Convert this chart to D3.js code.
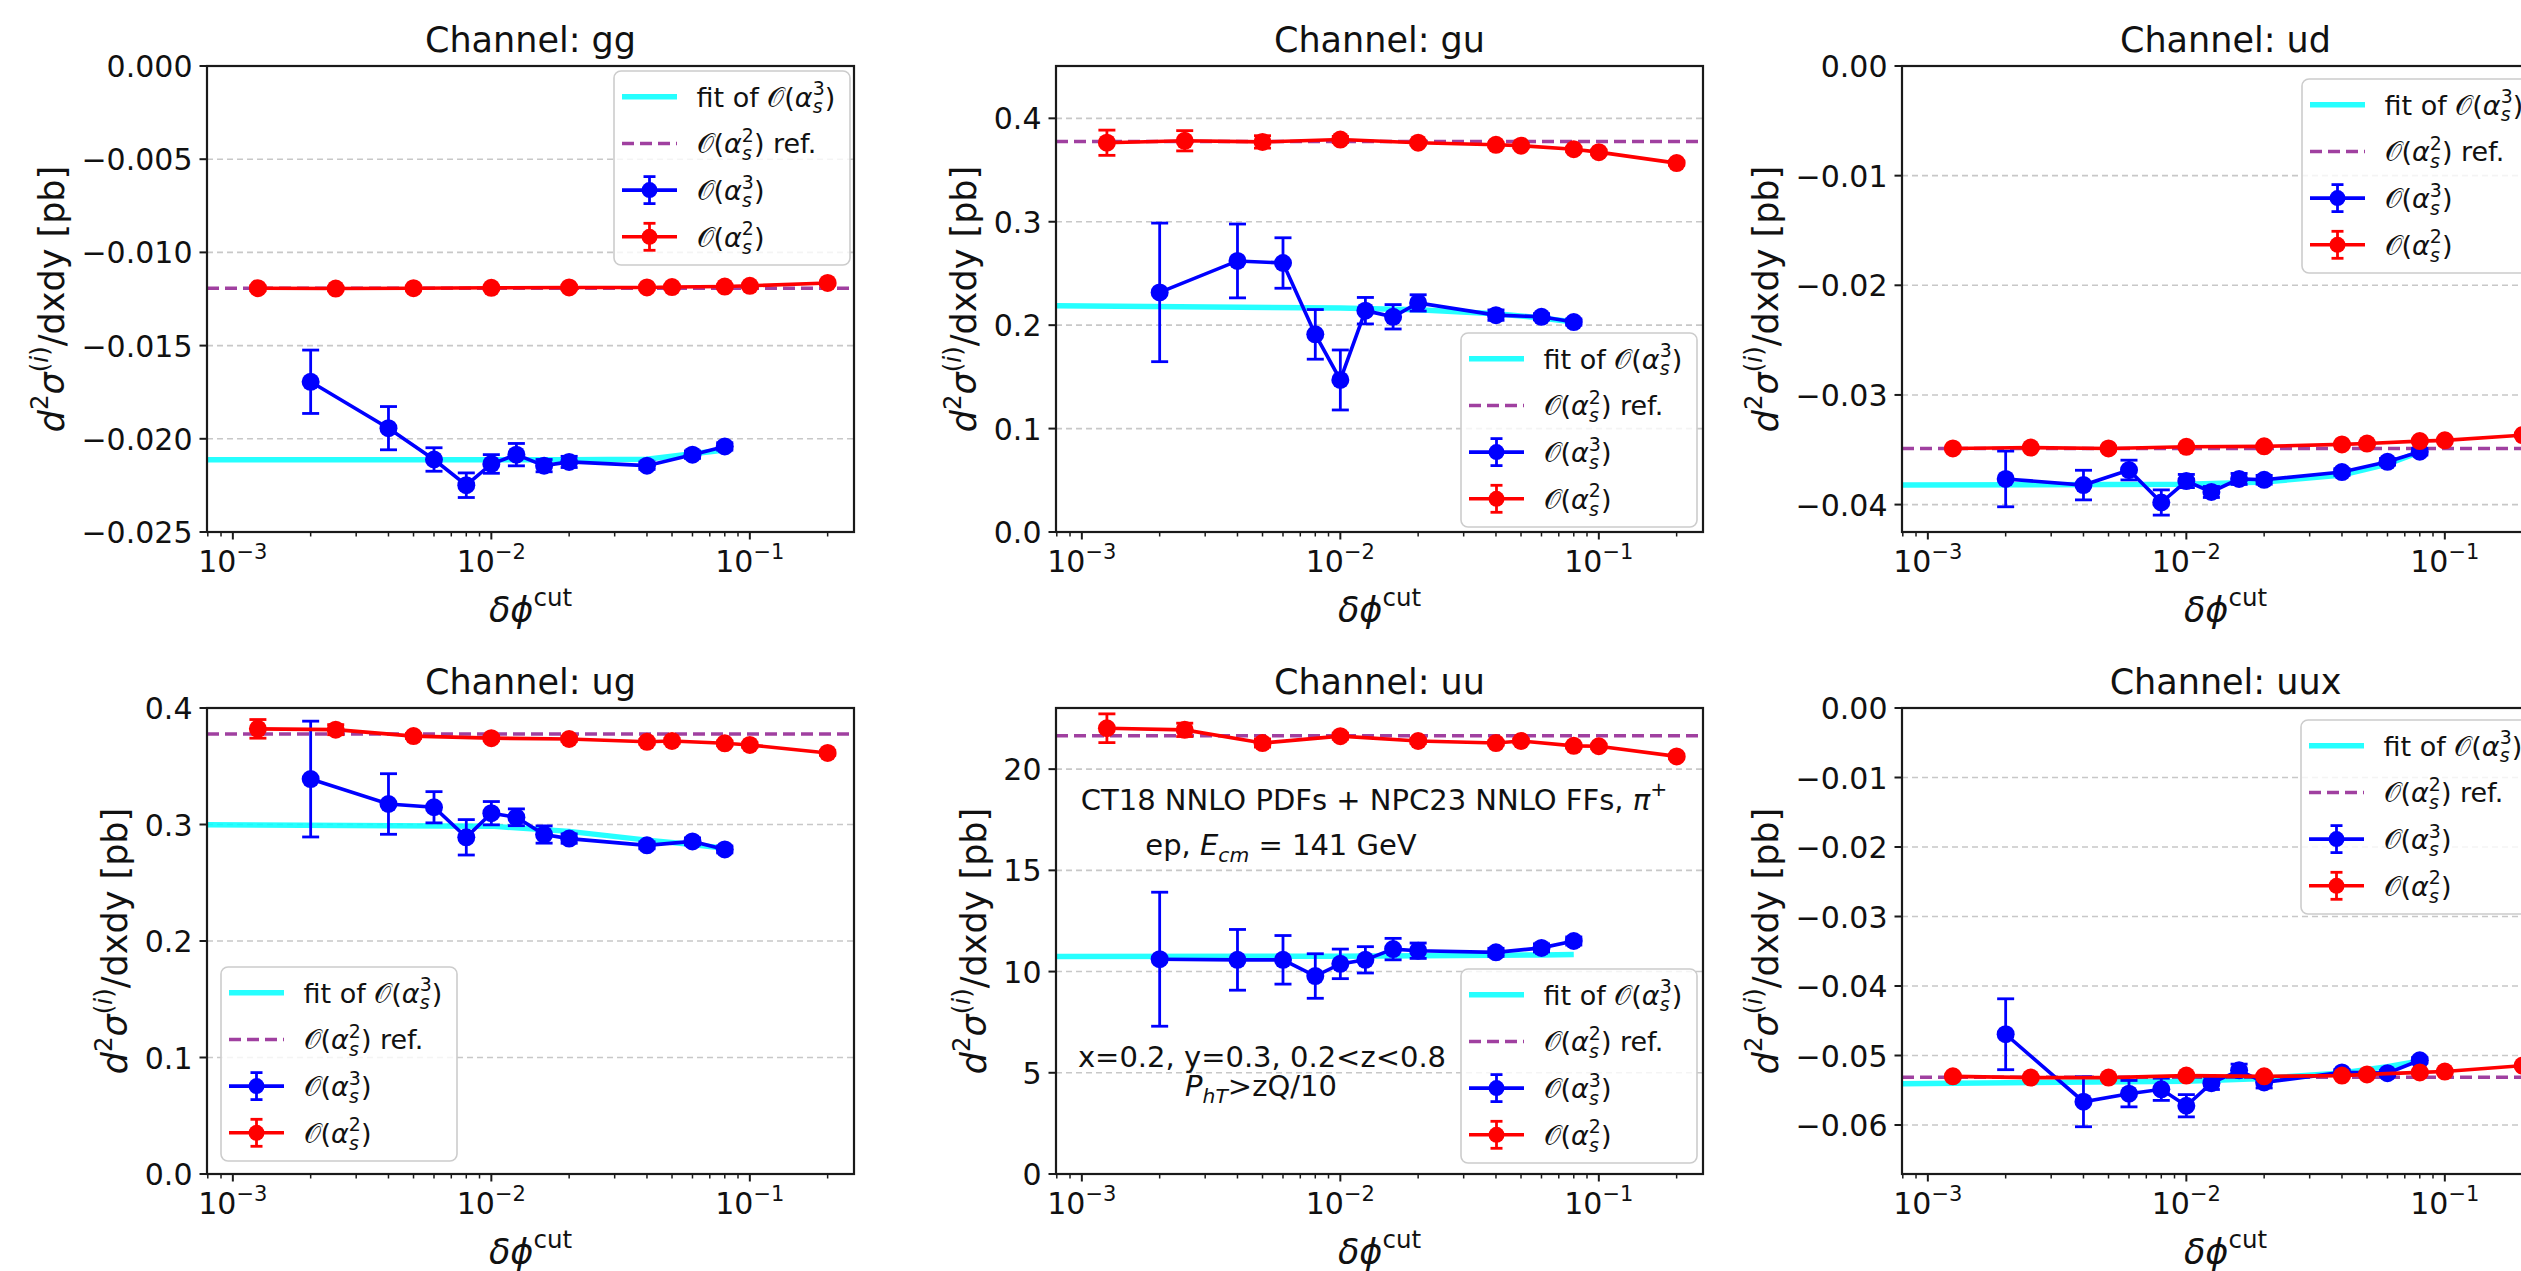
<!DOCTYPE html>
<html><head><meta charset="utf-8">
<script src="https://cdnjs.cloudflare.com/ajax/libs/d3/7.8.5/d3.min.js"></script>
<style>
html,body{margin:0;padding:0;background:#fff;overflow:hidden}
svg{display:block;font-family:"DejaVu Sans",sans-serif}
</style></head><body>
<svg id="chart" width="2521" height="1271"></svg>
<script>
// ---------------- DATA ----------------
const channels = ["gg","gu","ud","ug","uu","uux"];
const xRed  = [0.00125,0.0025,0.005,0.01,0.02,0.04,0.05,0.08,0.1,0.2];
const xBlue = [0.002,0.004,0.006,0.008,0.01,0.0125,0.016,0.02,0.04,0.06,0.08];
const xFit  = [0.000794,0.01,0.02,0.04,0.06,0.08];
const xTicks = [0.001,0.01,0.1];
const xTickExp = ["−3","−2","−1"];

const ggTicks = [0,-0.005,-0.01,-0.015,-0.02,-0.025];
const ggRed = [-0.01192,-0.01194,-0.01192,-0.0119,-0.01188,-0.01188,-0.01186,-0.01183,-0.01179,-0.01164];
const ggRedErr = [0.00012,0.0001,0.0001,0.0001,0.0001,0.0001,0.0001,0.0001,0.0001,0.0001];
const ggBlue = [-0.01694,-0.01943,-0.02111,-0.02249,-0.02135,-0.02085,-0.02144,-0.02124,-0.02144,-0.02085,-0.02041];
const ggBlueErr = [0.0017,0.00116,0.00063,0.00066,0.0005,0.0006,0.00033,0.0003,0.0002,0.0002,0.0002];
const ggFit = [-0.02113,-0.02113,-0.02112,-0.0211,-0.0208,-0.0206];
const ggRef = -0.01192;

const guTicks = [0,0.1,0.2,0.3,0.4];
const guRed = [0.3764,0.3783,0.3772,0.3795,0.3764,0.3744,0.3736,0.3701,0.3673,0.3567];
const guRedErr = [0.0122,0.0098,0.006,0.003,0.002,0.002,0.002,0.002,0.002,0.002];
const guBlue = [0.2317,0.2621,0.2601,0.1911,0.147,0.214,0.2081,0.2215,0.2097,0.2081,0.203];
const guBlueErr = [0.067,0.0357,0.0244,0.024,0.029,0.0128,0.0118,0.0079,0.005,0.003,0.003];
const guFit = [0.2187,0.2167,0.2148,0.211,0.207,0.203];
const guRef = 0.3776;

const udTicks = [0,-0.01,-0.02,-0.03,-0.04];
const udRed = [-0.03488,-0.0348,-0.03488,-0.03473,-0.03469,-0.03451,-0.03443,-0.03421,-0.03414,-0.03366];
const udRedErr = [0.0001,0.0001,0.0001,0.0001,0.0001,0.0001,0.0001,0.0001,0.0001,0.0001];
const udBlue = [-0.03766,-0.03822,-0.03685,-0.03981,-0.03785,-0.03885,-0.03766,-0.03774,-0.03703,-0.0361,-0.03518];
const udBlueErr = [0.00254,0.00135,0.0009,0.00115,0.0006,0.0005,0.0005,0.0004,0.0003,0.0003,0.0003];
const udFit = [-0.03822,-0.03815,-0.03795,-0.0373,-0.0363,-0.0352];
const udRef = -0.03488;

const ugTicks = [0,0.1,0.2,0.3,0.4];
const ugRed = [0.3821,0.3814,0.3759,0.3741,0.3734,0.371,0.3717,0.3697,0.3683,0.3614];
const ugRedErr = [0.008,0.0043,0.002,0.002,0.002,0.002,0.002,0.002,0.002,0.002];
const ugBlue = [0.339,0.3176,0.3148,0.289,0.3097,0.3062,0.2914,0.2879,0.2821,0.2855,0.2786];
const ugBlueErr = [0.0497,0.026,0.0134,0.0152,0.01,0.0072,0.0074,0.004,0.003,0.003,0.003];
const ugFit = [0.2997,0.2986,0.2941,0.2866,0.2828,0.2797];
const ugRef = 0.3776;

const uuTicks = [0,5,10,15,20];
const uuRed = [22.02,21.94,21.29,21.63,21.39,21.29,21.39,21.15,21.13,20.63];
const uuRedErr = [0.71,0.33,0.2,0.15,0.12,0.1,0.1,0.1,0.1,0.1];
const uuBlue = [10.61,10.58,10.58,9.78,10.38,10.58,11.11,11.03,10.95,11.17,11.51];
const uuBlueErr = [3.31,1.5,1.2,1.1,0.73,0.65,0.53,0.38,0.2,0.2,0.2];
const uuFit = [10.75,10.76,10.78,10.8,10.82,10.84];
const uuRef = 21.65;

const uuxTicks = [0,-0.01,-0.02,-0.03,-0.04,-0.05,-0.06];
const uuxRed = [-0.053,-0.05318,-0.05318,-0.05289,-0.053,-0.05289,-0.05272,-0.05243,-0.05231,-0.05145];
const uuxRedErr = [0.0002,0.0002,0.0002,0.0002,0.0002,0.0002,0.0002,0.0002,0.0002,0.0002];
const uuxBlue = [-0.04694,-0.05665,-0.05549,-0.05486,-0.05723,-0.05399,-0.05214,-0.05387,-0.05243,-0.05254,-0.05069];
const uuxBlueErr = [0.0051,0.0036,0.0019,0.0016,0.0016,0.0009,0.0009,0.0008,0.0004,0.0004,0.0004];
const uuxFit = [-0.05405,-0.0537,-0.0533,-0.0525,-0.0516,-0.0508];
const uuxRef = -0.05312;

const annotLines = ["CT18 NNLO PDFs + NPC23 NNLO FFs, ","ep, ","x=0.2, y=0.3, 0.2<z<0.8",">zQ/10"];

// ---------------- LAYOUT / STYLE ----------------
const L = {cols:[207,1056,1902], rows:[66,708], w:647, h:466};
const xDomain = [Math.pow(10,-3.1), Math.pow(10,-0.597)];
const C = {blue:"#0000ff", red:"#ff0000", cyan:"#00ffff", purple:"#800080", grid:"#c8c8c8"};
const FS = {tick:30, label:35, title:35, legend:27, annot:29};

const panels = [
 {ch:"gg", col:0,row:0, yDom:[-0.025,0], ticks:ggTicks, fmt:".3f", red:ggRed, redErr:ggRedErr, blue:ggBlue, blueErr:ggBlueErr, fit:ggFit, ref:ggRef, leg:[407,5]},
 {ch:"gu", col:1,row:0, yDom:[0,0.4506], ticks:guTicks, fmt:".1f", red:guRed, redErr:guRedErr, blue:guBlue, blueErr:guBlueErr, fit:guFit, ref:guRef, leg:[405,267]},
 {ch:"ud", col:2,row:0, yDom:[-0.0425,0], ticks:udTicks, fmt:".2f", red:udRed, redErr:udRedErr, blue:udBlue, blueErr:udBlueErr, fit:udFit, ref:udRef, leg:[400,13]},
 {ch:"ug", col:0,row:1, yDom:[0,0.4], ticks:ugTicks, fmt:".1f", red:ugRed, redErr:ugRedErr, blue:ugBlue, blueErr:ugBlueErr, fit:ugFit, ref:ugRef, leg:[14,259]},
 {ch:"uu", col:1,row:1, yDom:[0,23.02], ticks:uuTicks, fmt:"d", red:uuRed, redErr:uuRedErr, blue:uuBlue, blueErr:uuBlueErr, fit:uuFit, ref:uuRef, leg:[405,261], annot:true},
 {ch:"uux", col:2,row:1, yDom:[-0.06705,0], ticks:uuxTicks, fmt:".2f", red:uuxRed, redErr:uuxRedErr, blue:uuxBlue, blueErr:uuxBlueErr, fit:uuxFit, ref:uuxRef, leg:[399,12]}
];

const svg = d3.select("#chart");
svg.append("rect").attr("width",2521).attr("height",1271).attr("fill","#fff");

function tsp(t, str, o={}) {
  const s = t.append("tspan").text(str);
  if (o.it) s.attr("font-style","italic");
  if (o.size) s.attr("font-size", o.size);
  if (o.dx!=null) s.attr("dx", o.dx);
  if (o.dy!=null) s.attr("dy", o.dy);
  return s;
}
function orderO(t, fs, n) {
  tsp(t,"𝒪"); tsp(t,"("); tsp(t,"α",{it:1});
  tsp(t,n,{size:0.7*fs, dy:-0.42*fs});
  tsp(t,"s",{it:1,size:0.7*fs, dx:-0.445*fs, dy:0.67*fs});
  tsp(t,")",{dx:0.08*fs, dy:-0.25*fs});
}

panels.forEach((p,pi) => {
  const x0 = L.cols[p.col], y0 = L.rows[p.row], w=L.w, h=L.h;
  const g = svg.append("g").attr("transform",`translate(${x0},${y0})`);
  const xs = d3.scaleLog().domain(xDomain).range([0,w]);
  const ys = d3.scaleLinear().domain(p.yDom).range([h,0]);
  const clipId = "clip"+pi;
  g.append("clipPath").attr("id",clipId).append("rect").attr("width",w).attr("height",h);

  // grid
  g.append("g").selectAll("line").data(p.ticks).join("line")
    .attr("x1",0).attr("x2",w).attr("y1",d=>ys(d)).attr("y2",d=>ys(d))
    .attr("stroke",C.grid).attr("stroke-width",1.6).attr("stroke-dasharray","6,4");

  const plot = g.append("g").attr("clip-path",`url(#${clipId})`);
  // fit line
  plot.append("path").datum(xFit.map((x,i)=>[x,p.fit[i]]))
    .attr("d", d3.line().x(d=>xs(d[0])).y(d=>ys(d[1])))
    .attr("fill","none").attr("stroke",C.cyan).attr("stroke-opacity",0.85).attr("stroke-width",5.5);
  // ref line
  plot.append("line").attr("x1",0).attr("x2",w).attr("y1",ys(p.ref)).attr("y2",ys(p.ref))
    .attr("stroke",C.purple).attr("stroke-opacity",0.75).attr("stroke-width",3.5).attr("stroke-dasharray","12,6");

  function series(xv, yv, ev, col) {
    const sg = plot.append("g");
    const pts = xv.map((x,i)=>({x, y:yv[i], e:ev[i]}));
    sg.append("path").datum(pts).attr("d", d3.line().x(d=>xs(d.x)).y(d=>ys(d.y)))
      .attr("fill","none").attr("stroke",col).attr("stroke-width",3.6);
    const eb = sg.selectAll("g.eb").data(pts).join("g");
    eb.append("line").attr("x1",d=>xs(d.x)).attr("x2",d=>xs(d.x)).attr("y1",d=>ys(d.y-d.e)).attr("y2",d=>ys(d.y+d.e))
      .attr("stroke",col).attr("stroke-width",2.8);
    [-1,1].forEach(s=>{
      eb.append("line").attr("x1",d=>xs(d.x)-8.5).attr("x2",d=>xs(d.x)+8.5)
        .attr("y1",d=>ys(d.y+s*d.e)).attr("y2",d=>ys(d.y+s*d.e)).attr("stroke",col).attr("stroke-width",2.8);
    });
    sg.selectAll("circle").data(pts).join("circle").attr("cx",d=>xs(d.x)).attr("cy",d=>ys(d.y)).attr("r",9).attr("fill",col);
  }
  series(xBlue, p.blue, p.blueErr, C.blue);
  series(xRed, p.red, p.redErr, C.red);

  // frame
  g.append("rect").attr("width",w).attr("height",h).attr("fill","none").attr("stroke","#1a1a1a").attr("stroke-width",2.2);

  // y ticks
  const f = d3.format(p.fmt);
  const yt = g.append("g");
  yt.selectAll("line").data(p.ticks).join("line").attr("x1",-7.5).attr("x2",0)
    .attr("y1",d=>ys(d)).attr("y2",d=>ys(d)).attr("stroke","#1a1a1a").attr("stroke-width",2);
  const ytl = yt.selectAll("text").data(p.ticks).join("text").attr("x",-14.5).attr("y",d=>ys(d)+11)
    .attr("text-anchor","end").attr("font-size",FS.tick).attr("fill","#111").text(d=>f(d));

  // x ticks (major + minor)
  const minor = [];
  for (let e=-4;e<=0;e++) for (let m=2;m<=9;m++){ const v=m*Math.pow(10,e); if(v>=xDomain[0]&&v<=xDomain[1]) minor.push(v); }
  g.append("g").selectAll("line").data(minor).join("line").attr("x1",d=>xs(d)).attr("x2",d=>xs(d))
    .attr("y1",h).attr("y2",h+4.5).attr("stroke","#1a1a1a").attr("stroke-width",1.5);
  g.append("g").selectAll("line").data(xTicks).join("line").attr("x1",d=>xs(d)).attr("x2",d=>xs(d))
    .attr("y1",h).attr("y2",h+7.5).attr("stroke","#1a1a1a").attr("stroke-width",2);
  xTicks.forEach((v,i)=>{
    const t = g.append("text").attr("x",xs(v)).attr("y",h+40).attr("text-anchor","middle")
      .attr("font-size",FS.tick).attr("fill","#111");
    tsp(t,"10"); tsp(t,xTickExp[i],{size:0.7*FS.tick, dy:-0.45*FS.tick});
  });

  // title
  g.append("text").attr("x",w/2).attr("y",-14).attr("text-anchor","middle").attr("font-size",FS.title)
    .attr("fill","#111").text("Channel: "+p.ch);

  // x label
  const fsl = FS.label;
  const xl = g.append("text").attr("x",w/2).attr("y",h+90).attr("text-anchor","middle").attr("font-size",fsl).attr("fill","#111");
  tsp(xl,"δϕ",{it:1}); tsp(xl,"cut",{size:0.7*fsl, dy:-0.45*fsl});

  // y label
  let minX = 0;
  ytl.each(function(){ const b=this.getBBox(); minX=Math.min(minX,b.x); });
  const yl = g.append("text").attr("transform",`translate(${minX-28},${h/2}) rotate(-90)`)
    .attr("text-anchor","middle").attr("y",0.3*fsl).attr("font-size",fsl).attr("fill","#111");
  tsp(yl,"d",{it:1}); tsp(yl,"2",{size:0.7*fsl, dy:-0.45*fsl});
  tsp(yl,"σ",{it:1, dy:0.45*fsl});
  tsp(yl,"(",{size:0.7*fsl, dy:-0.45*fsl}); tsp(yl,"i",{it:1,size:0.7*fsl}); tsp(yl,")",{size:0.7*fsl});
  tsp(yl,"/dxdy [pb]",{dy:0.45*fsl});

  // legend
  const lx = p.leg[0], ly = p.leg[1], lw=236, lh=194, fs=FS.legend;
  const lg = g.append("g");
  lg.append("rect").attr("x",lx).attr("y",ly).attr("width",lw).attr("height",lh).attr("rx",7)
    .attr("fill","#fff").attr("fill-opacity",0.8).attr("stroke","#cccccc").attr("stroke-width",1.6);
  const rows = [25.7,72.4,119.1,165.8].map(r=>ly+r);
  const hx0=lx+8, hx1=lx+63, hc=lx+35.5, tx=lx+82.5;
  lg.append("line").attr("x1",hx0).attr("x2",hx1).attr("y1",rows[0]).attr("y2",rows[0]).attr("stroke",C.cyan).attr("stroke-opacity",0.85).attr("stroke-width",5.5);
  lg.append("line").attr("x1",hx0).attr("x2",hx1).attr("y1",rows[1]).attr("y2",rows[1]).attr("stroke",C.purple)
    .attr("stroke-opacity",0.75).attr("stroke-width",3.5).attr("stroke-dasharray","12,6");
  [[rows[2],C.blue],[rows[3],C.red]].forEach(([ry,col])=>{
    lg.append("line").attr("x1",hx0).attr("x2",hx1).attr("y1",ry).attr("y2",ry).attr("stroke",col).attr("stroke-width",3.6);
    lg.append("line").attr("x1",hc).attr("x2",hc).attr("y1",ry-13.5).attr("y2",ry+13.5).attr("stroke",col).attr("stroke-width",2.8);
    [-13.5,13.5].forEach(o=>lg.append("line").attr("x1",hc-6).attr("x2",hc+6).attr("y1",ry+o).attr("y2",ry+o).attr("stroke",col).attr("stroke-width",2.8));
    lg.append("circle").attr("cx",hc).attr("cy",ry).attr("r",8).attr("fill",col);
  });
  const lt = (i)=>lg.append("text").attr("x",tx).attr("y",rows[i]+10).attr("font-size",fs).attr("fill","#111");
  let t0 = lt(0); tsp(t0,"fit of "); orderO(t0,fs,"3");
  let t1 = lt(1); orderO(t1,fs,"2"); tsp(t1," ref.");
  let t2 = lt(2); orderO(t2,fs,"3");
  let t3 = lt(3); orderO(t3,fs,"2");

  // annotations
  if (p.annot) {
    const fa = FS.annot;
    const a1 = g.append("text").attr("x",318).attr("y",101.5).attr("text-anchor","middle").attr("font-size",fa).attr("fill","#111");
    tsp(a1,annotLines[0]); tsp(a1,"π",{it:1}); tsp(a1,"+",{size:0.7*fa, dy:-0.45*fa});
    const a2 = g.append("text").attr("x",225).attr("y",147).attr("text-anchor","middle").attr("font-size",fa).attr("fill","#111");
    tsp(a2,annotLines[1]); tsp(a2,"E",{it:1}); tsp(a2,"cm",{it:1,size:0.7*fa, dy:0.25*fa}); tsp(a2," = 141 GeV",{dy:-0.25*fa});
    g.append("text").attr("x",206).attr("y",358.5).attr("text-anchor","middle").attr("font-size",fa).attr("fill","#111").text(annotLines[2]);
    const a4 = g.append("text").attr("x",205).attr("y",388).attr("text-anchor","middle").attr("font-size",fa).attr("fill","#111");
    tsp(a4,"P",{it:1}); tsp(a4,"hT",{it:1,size:0.7*fa, dy:0.25*fa}); tsp(a4,annotLines[3],{dy:-0.25*fa});
  }
});
</script>
</body></html>
